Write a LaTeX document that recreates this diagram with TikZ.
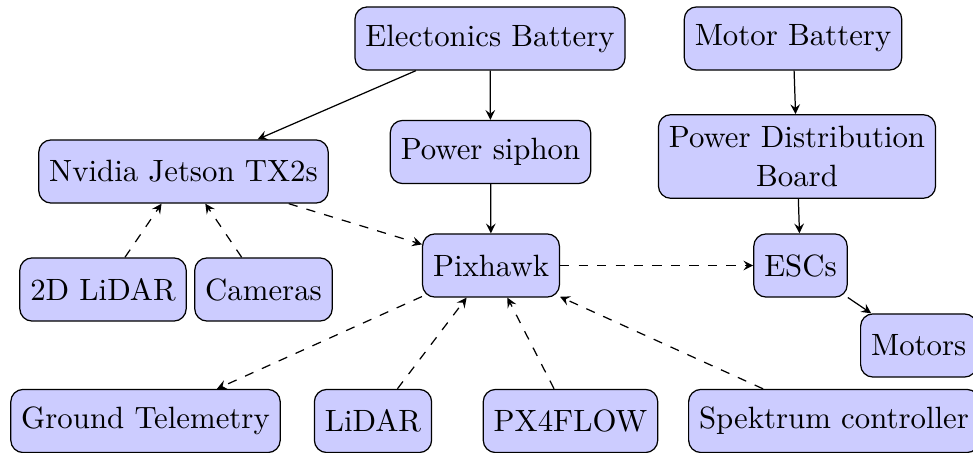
\documentclass[tikz,border=0pt]{standalone}
\usetikzlibrary{arrows}
\begin{document}
\begin{tikzpicture}[x=0.3247pt,y=-0.3247pt,
  block/.style={draw, fill=blue!20, rounded corners, minimum height=20.5pt, inner sep=3.4pt, align=center},
  solidarrow/.style={-stealth},
  dasharrow/.style={-stealth, dashed}]
\useasboundingbox (0,0) rectangle (973,453);
\node[block] (eb) at (490,38.5) {Electonics Battery};
\node[block] (mb) at (793,38.5) {Motor Battery};
\node[block] (nv) at (183.5,171.5) {Nvidia Jetson TX2s};
\node[block] (ps) at (490.5,152) {Power siphon};
\node[block, inner ysep=3.8pt] (pdb) at (797,156.5) {Power Distribution\\[0.5pt]Board};
\node[block] (px) at (491,265.5) {Pixhawk};
\node[block] (esc) at (800.5,265.5) {ESCs};
\node[block] (l2d) at (103,289.5) {2D LiDAR};
\node[block] (cam) at (263.5,289.5) {Cameras};
\node[block, anchor=west] (mot) at (860,345.5) {Motors};
\node[block] (gt) at (145.5,421) {Ground Telemetry};
\node[block] (lid) at (373,421) {LiDAR};
\node[block] (pxf) at (570.5,421) {PX4FLOW};
\node[block, anchor=west] (spk) at (688,421) {Spektrum controller};

\draw[solidarrow] (eb) -- (nv);
\draw[solidarrow] (eb) -- (ps);
\draw[solidarrow] (ps) -- (px);
\draw[solidarrow] (mb) -- (pdb);
\draw[solidarrow] (pdb) -- (esc);
\draw[solidarrow] (esc) -- (mot);
\draw[dasharrow] (nv) -- (px);
\draw[dasharrow] (l2d) -- (nv);
\draw[dasharrow] (cam) -- (nv);
\draw[dasharrow] (px) -- (esc);
\draw[dasharrow] (px) -- (gt);
\draw[dasharrow] (lid) -- (px);
\draw[dasharrow] (pxf) -- (px);
\draw[dasharrow] (spk) -- (px);
\end{tikzpicture}
\end{document}
